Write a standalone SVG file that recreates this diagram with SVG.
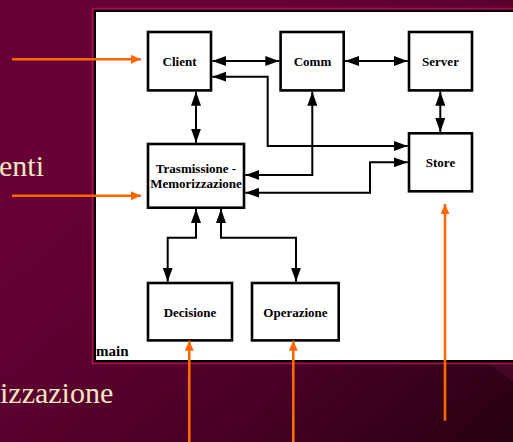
<svg xmlns="http://www.w3.org/2000/svg" width="513" height="442" viewBox="0 0 513 442">
<defs>
<linearGradient id="bg" x1="0.3" y1="0.25" x2="1" y2="0.95">
<stop offset="0" stop-color="#670035"/>
<stop offset="0.45" stop-color="#54002b"/>
<stop offset="1" stop-color="#2a0013"/>
</linearGradient>
<marker id="ah" viewBox="0 0 14 10" refX="14" refY="5" markerWidth="14" markerHeight="10" markerUnits="userSpaceOnUse" orient="auto-start-reverse">
<path d="M0,0 L14,5 L0,10 z" fill="#000"/>
</marker>
<marker id="oh" viewBox="0 0 10 9" refX="10" refY="4.5" markerWidth="10" markerHeight="9" markerUnits="userSpaceOnUse" orient="auto">
<path d="M0,0 L10,4.5 L0,9 z" fill="#ff6600"/>
</marker>
</defs>
<style>
.box{fill:#fff;stroke:#000;stroke-width:2.6}
.lbl{font-family:'Liberation Serif','Times New Roman','DejaVu Serif',serif;font-weight:bold;font-size:13px;fill:#000;text-anchor:middle}
.con{fill:none;stroke:#000;stroke-width:2;marker-start:url(#ah);marker-end:url(#ah)}
.or{fill:none;stroke:#ff6600;stroke-width:2.6;marker-end:url(#oh)}
.bgt{font-family:'Liberation Serif','Times New Roman','DejaVu Serif',serif;font-size:30px;fill:#f2e6c2}
</style>
<rect x="0" y="0" width="513" height="442" fill="url(#bg)"/>
<path d="M488,364 L513,364 L513,382 Z" fill="#4a0a28" opacity="0.7"/>
<text class="bgt" x="-1" y="176" font-family="Liberation Serif, serif">enti</text>
<text class="bgt" x="0" y="403" font-family="Liberation Serif, serif">izzazione</text>
<g id="panel">
<rect x="92.5" y="8.5" width="430" height="355" fill="none" stroke="#a8104e" stroke-width="1.5"/>
<rect x="95" y="11" width="430" height="350" fill="#fff" stroke="#000" stroke-width="2"/>
<text x="96" y="356" font-family="Liberation Serif, serif" font-weight="bold" font-size="15" fill="#000">main</text>
</g>
<g id="connectors">
<path class="con" d="M212.3,61 H279.3"/>
<path class="con" d="M345,61 H407.7"/>
<path class="con" d="M212.3,76.7 H267.7 V146 H407.7"/>
<path class="con" d="M196,91.7 V142.7"/>
<path class="con" d="M312.3,91.7 V175 H245.3"/>
<path class="con" d="M407.7,162.3 H370 V192.7 H245.3"/>
<path class="con" d="M440.3,91.7 V132"/>
<path class="con" d="M196,209 V237.7 H167.7 V281.7"/>
<path class="con" d="M221,209 V237.7 H296 V281.7"/>
</g>
<g id="node-client"><rect class="box" x="148" y="32" width="63" height="58.4"/><text class="lbl" x="179.5" y="66">Client</text></g>
<g id="node-comm"><rect class="box" x="280.6" y="32" width="63.1" height="58.4"/><text class="lbl" x="312.5" y="66">Comm</text></g>
<g id="node-server"><rect class="box" x="409" y="32" width="63" height="58.4"/><text class="lbl" x="440.5" y="66">Server</text></g>
<g id="node-store"><rect class="box" x="409" y="133.3" width="63" height="58"/><text class="lbl" x="440.5" y="166.5">Store</text></g>
<g id="node-trasm"><rect class="box" x="148" y="144" width="96" height="63.7"/><text class="lbl" x="196" y="173">Trasmissione -</text><text class="lbl" x="196" y="188">Memorizzazione</text></g>
<g id="node-decisione"><rect class="box" x="148" y="283" width="84" height="57.4"/><text class="lbl" x="190" y="316.5">Decisione</text></g>
<g id="node-operazione"><rect class="box" x="252" y="283" width="86.7" height="57.4"/><text class="lbl" x="295.5" y="316.5">Operazione</text></g>
<g id="orange-arrows">
<path class="or" d="M12,59.3 H141"/>
<path class="or" d="M12,195.7 H141"/>
<path class="or" d="M189.3,442 V340.7"/>
<path class="or" d="M293.3,442 V340.7"/>
<path class="or" d="M445,420.7 V204"/>
</g>
</svg>
